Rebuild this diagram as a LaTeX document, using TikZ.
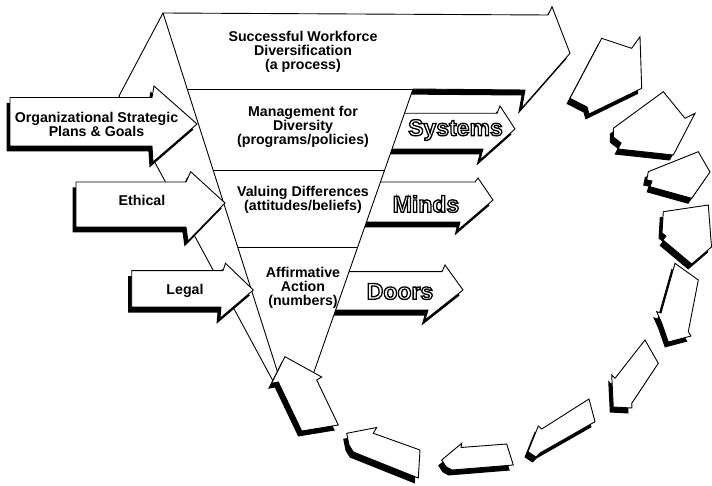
\documentclass[tikz,border=0pt]{standalone}
\usepackage{fontspec}
\setmainfont{Liberation Sans}
\usepackage{xcolor}
\newcommand\outl[1]{\textcolor{white}{\special{pdf:literal direct 0 G 2 Tr 1.3 w}#1\special{pdf:literal direct 0 Tr}}}
\tikzset{
  arrowbody/.style={draw=black, fill=white, line width=0.9pt, line join=miter},
  shadowfill/.style={fill=black, shift={(-3.5,5.5)}},
  thinline/.style={draw=black, line width=0.9pt},
  lbl/.style={font=\bfseries\fontsize{14.2}{14}\selectfont, align=center, inner sep=0pt},
  bigword/.style={font=\bfseries\fontsize{23}{24}\selectfont, inner sep=0pt},
}
\newcommand\shadedarrow[1]{\fill[shadowfill] #1 -- cycle; \draw[arrowbody] #1 -- cycle;}
\begin{document}
\begin{tikzpicture}[x=1pt,y=-1pt]
\useasboundingbox[fill=white] (0,0) rectangle (712,486);
% outer funnel lines
\coordinate (vtop) at (163,13);
\coordinate (vleft) at (119,96);
\coordinate (vbot) at (273,381);
\draw[thinline] (vtop) -- (vleft) -- (vbot);
% cycle arrows
\shadedarrow{(601.7,38.3) -- (631.7,48.3) -- (640,36.7) -- (641.7,88.3) -- (589,114) -- (587,107) -- (570,98.3)}
\shadedarrow{(613.3,128.3) -- (663.3,91.7) -- (685,118.3) -- (695,113.3) -- (673.3,155) -- (618,149) -- (621,143) -- (613.3,137)}
\shadedarrow{(648.3,171.7) -- (698.3,151.7) -- (710,172) -- (691.7,198.3) -- (650,186.7) -- (652,181) -- (646.7,180)}
\shadedarrow{(663.3,211.7) -- (708.3,205) -- (711.5,247) -- (691.7,264) -- (663,240) -- (666,236) -- (662,233)}
\shadedarrow{(675,263.3) -- (698.3,280) -- (688.3,331.7) -- (691,336) -- (668.3,342) -- (661.7,323) -- (656.7,311.7) -- (661,313)}
\shadedarrow{(645,340) -- (658.3,363.3) -- (631.7,403.3) -- (632,408) -- (613.3,407) -- (611.7,375) -- (615,378.3)}
\shadedarrow{(528,451.7) -- (538.3,426) -- (541.7,429) -- (589,399) -- (595,421.7) -- (540,453) -- (536,457)}
\shadedarrow{(441.7,460) -- (461.7,443.3) -- (461,447.5) -- (506.7,444) -- (513.3,465) -- (452,470) -- (446,466.7)}
\shadedarrow{(346.7,433.3) -- (376.7,427.5) -- (373.3,433.3) -- (420,450) -- (418.3,478) -- (353.3,452) -- (349,445)}
% right arrows
\shadedarrow{(385,113.3) -- (497,113.3) -- (500,106) -- (515,129) -- (480,160) -- (483,149) -- (385,149)}
\shadedarrow{(360,182) -- (475,182) -- (478,178) -- (493,200) -- (458,230) -- (460,222) -- (360,222)}
\shadedarrow{(330,271.7) -- (442,271.7) -- (445,265) -- (463,290) -- (425,320) -- (428,310) -- (330,310)}
% big arrow shadow and funnel
\fill[shadowfill] (400,60) -- (548,15) -- (552,6.7) -- (570,53.3) -- (521.7,108.3) -- (525,90) -- (400,89) -- cycle;
\draw[arrowbody] (163,13) -- (548,15) -- (552,6.7) -- (570,53.3) -- (521.7,108.3) -- (525,90) -- (413,89) -- (309.4,385) -- (281.7,385) -- cycle;
\draw[thinline] (187.2,89) -- (413,89);
\draw[thinline] (213.1,170) -- (384.7,170);
\draw[thinline] (237.6,247) -- (357.7,247);
% left arrows
\shadedarrow{(10,97.5) -- (152,97.5) -- (154,86) -- (197,124) -- (153,162) -- (152,146) -- (10,146)}
\shadedarrow{(76,182) -- (186,182) -- (190.7,171.7) -- (225,203) -- (188,241) -- (186,227) -- (76,227)}
\shadedarrow{(131.7,270.7) -- (223,270.7) -- (225.5,263.3) -- (253.3,290) -- (220,318.3) -- (221,307) -- (131.7,307)}
% bottom arrow
\shadedarrow{(285,356.7) -- (315,373.3) -- (321.7,377) -- (316.7,380) -- (338.3,425) -- (301.7,431) -- (278.3,382) -- (271.7,383.3)}
% texts
\node[lbl] (success) at (303,52) {Successful Workforce\\Diversification\\(a process)};
\node[lbl] (mgmt) at (303,127) {Management for\\Diversity\\(programs/policies)};
\node[lbl] (valuing) at (303,199.5) {Valuing Differences\\(attitudes/beliefs)};
\node[lbl] (affirm) at (303,288) {Affirmative\\Action\\(numbers)};
\node[lbl] (org) at (96.5,124.5) {Organizational Strategic\\Plans \& Goals};
\node[lbl] (ethical) at (142,200.5) {Ethical};
\node[lbl] (legal) at (185,291) {Legal};
\node[bigword] (systems) at (455.5,130) {\outl{Systems}};
\node[bigword] (minds) at (426,204) {\outl{Minds}};
\node[bigword] (doors) at (400,291.5) {\outl{Doors}};
\end{tikzpicture}
\end{document}
